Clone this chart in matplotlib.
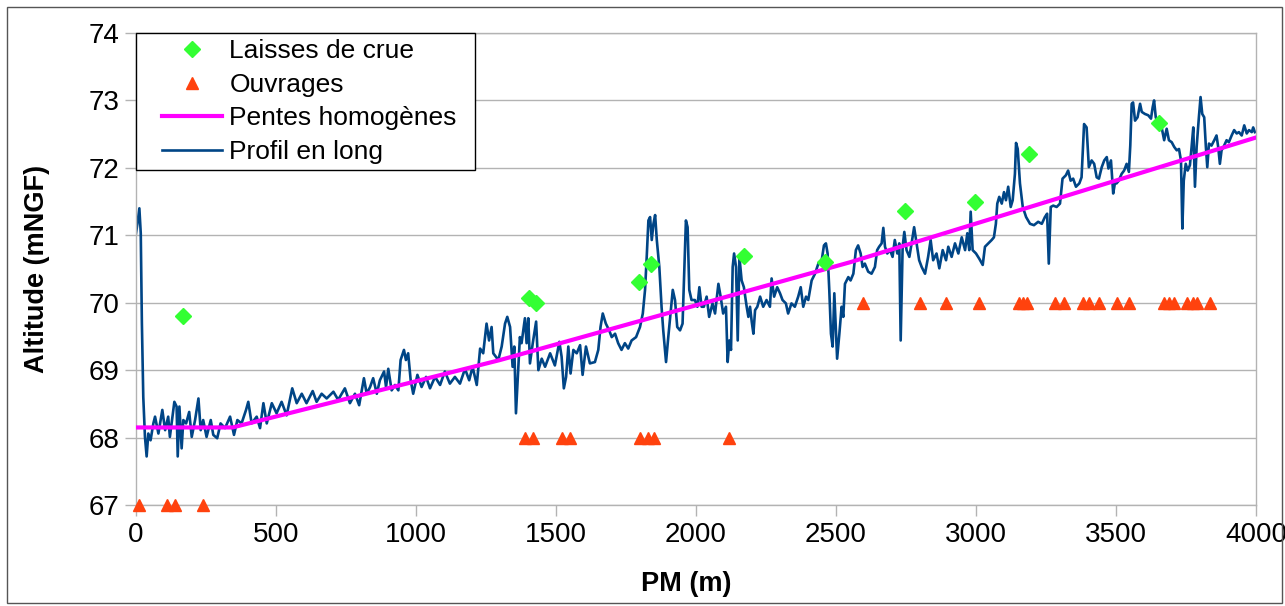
import matplotlib
matplotlib.use("Agg")
import matplotlib.pyplot as plt
from matplotlib.patches import Rectangle
from matplotlib.lines import Line2D
from matplotlib.legend_handler import HandlerLine2D

plt.rcParams['font.family'] = ['Liberation Sans', 'DejaVu Sans']

# -----------------------------
# données
# -----------------------------
# laisses de crue
laisses_pm = [168, 1404, 1429, 1796, 1839, 2171, 2461, 2746, 2996, 3189, 3654]
laisses_z = [69.81, 70.07, 69.99, 70.30, 70.57, 70.69, 70.61, 71.36, 71.49, 72.20, 72.67]

# ouvrages
ouvrages_pm = [12, 109, 139, 238,
               1389, 1417, 1520, 1550, 1800, 1830, 1850, 2117,
               2597, 2800, 2893, 3010, 3155, 3169, 3183, 3282, 3314, 3383,
               3405, 3440, 3505, 3548, 3671, 3690, 3707, 3755, 3776, 3788, 3836]
ouvrages_z = [67, 67, 67, 67,
              68, 68, 68, 68, 68, 68, 68, 68,
              70, 70, 70, 70, 70, 70, 70, 70, 70, 70,
              70, 70, 70, 70, 70, 70, 70, 70, 70, 70, 70]

# pentes homogènes
pentes_pm = [0, 345, 1300, 2550, 4000]
pentes_z = [68.15, 68.15, 69.15, 70.60, 72.45]

# profil en long
profil_pm = [
    0, 5, 12, 17, 21, 26, 32, 38, 44, 52,
    62, 68, 80, 94, 104, 115, 121, 137, 145, 149,
    155, 163, 169, 179, 190, 199, 211, 223, 231, 240,
    252, 267, 276, 290, 302, 318, 336, 350, 362, 377,
    393, 401, 413, 431, 443, 455, 467, 485, 502, 520,
    538, 558, 574, 592, 609, 631, 645, 663, 681,
    705, 722, 746, 764, 782, 797, 814, 824, 836, 847,
    860, 871, 886, 893, 901, 913, 925, 937, 945, 957,
    964, 972, 981, 990, 1005, 1020, 1036, 1050, 1068, 1086,
    1103, 1121, 1139, 1157, 1175, 1190, 1202, 1217, 1229, 1240,
    1252, 1261, 1270, 1276, 1294, 1306, 1318, 1326, 1336, 1345,
    1351,
    1357, 1365, 1371, 1377, 1383, 1389, 1395, 1401, 1407, 1417,
    1429, 1437, 1449, 1461, 1479, 1496, 1512, 1520, 1528, 1536,
    1544, 1552, 1562, 1574, 1586, 1595, 1607, 1621, 1639, 1651,
    1659, 1667, 1678, 1690, 1699, 1711, 1722, 1734, 1746, 1758,
    1770, 1786, 1800, 1810, 1818, 1824, 1830, 1836, 1842, 1848,
    1854, 1860, 1869, 1877, 1883, 1893, 1901, 1909, 1917, 1925,
    1933, 1943, 1952, 1960, 1964, 1970, 1976, 1984, 1996, 2005,
    2012,
    2020, 2028, 2038, 2047, 2059, 2068, 2080, 2088, 2097, 2107,
    2113, 2119, 2125, 2131, 2136, 2143, 2149, 2155, 2163, 2171,
    2181, 2187, 2193, 2199, 2205, 2211, 2219, 2229, 2240, 2252,
    2264, 2270, 2279, 2290, 2300, 2309, 2321, 2329, 2341, 2353,
    2365, 2374, 2383, 2393, 2401, 2413, 2425, 2437, 2449, 2457,
    2464, 2470, 2476, 2482, 2488, 2494, 2500, 2504, 2512, 2520,
    2526, 2532, 2544, 2552, 2562, 2571, 2579, 2588, 2595, 2603,
    2615, 2627, 2639, 2647, 2654, 2663, 2669, 2675, 2683, 2693,
    2702, 2710, 2719,
    2726, 2731, 2738, 2744, 2752, 2762, 2770, 2779, 2788, 2797,
    2806, 2818, 2829, 2838, 2847, 2859, 2869, 2881, 2893, 2901,
    2913, 2925, 2937, 2949, 2961, 2969, 2976, 2981, 2988, 3000,
    3012, 3024, 3032, 3044, 3056, 3064, 3071, 3076, 3083, 3092,
    3100, 3107, 3115, 3124, 3131, 3139, 3143, 3149, 3157, 3167,
    3179, 3193, 3207, 3222, 3235, 3246, 3254, 3260, 3267, 3276,
    3288, 3300, 3309, 3321, 3329, 3338, 3347, 3357, 3369, 3377,
    3386, 3395, 3403, 3413, 3422, 3431, 3439, 3449, 3458, 3467,
    3473, 3482, 3490, 3496, 3502, 3510, 3520, 3529, 3538, 3546,
    3551, 3556, 3561, 3568, 3577, 3586, 3592, 3603, 3615, 3625,
    3631, 3636, 3642, 3651, 3663, 3672, 3681, 3689, 3699, 3708,
    3717, 3725, 3732, 3737, 3742, 3749, 3756, 3764, 3770, 3776,
    3782, 3788, 3796, 3802, 3808, 3815, 3821, 3826, 3832, 3841,
    3851, 3859, 3865, 3871, 3877, 3884, 3895, 3903, 3913, 3922,
    3931, 3939, 3949, 3958, 3967, 3975, 3985, 3990, 3996,
]
profil_z = [
    71.03, 71.17, 71.40, 71.03, 69.70, 68.60, 68.01, 67.72, 68.06, 67.96,
    68.21, 68.31, 68.06, 68.41, 68.11, 68.31, 68.01, 68.53, 68.46, 67.72,
    68.46, 67.84, 68.26, 68.21, 68.38, 68.01, 68.26, 68.58, 68.11, 68.26,
    68.01, 68.26, 68.04, 67.99, 68.21, 68.14, 68.31, 68.04, 68.26, 68.21,
    68.41, 68.53, 68.21, 68.31, 68.14, 68.51, 68.21, 68.51, 68.36, 68.53,
    68.33, 68.73, 68.51, 68.65, 68.51, 68.69, 68.53, 68.65, 68.58,
    68.68, 68.56, 68.73, 68.51, 68.65, 68.48, 68.88, 68.65, 68.75, 68.88,
    68.65, 68.85, 68.98, 68.75, 69.02, 68.70, 68.78, 68.70, 69.15, 69.30,
    69.15, 69.25, 68.85, 68.65, 68.93, 68.75, 68.90, 68.73, 68.90, 68.78,
    68.98, 68.80, 68.90, 68.80, 69.02, 68.85, 69.05, 68.78, 69.32, 69.25,
    69.69, 69.44, 69.64, 69.25, 69.15, 69.35, 69.69, 69.79, 69.64, 69.05,
    69.35,
    68.36, 69.00, 69.49, 69.40, 69.59, 69.77, 69.40, 69.77, 69.10, 69.40,
    69.72, 69.00, 69.17, 69.05, 69.25, 69.07, 69.42, 69.20, 68.73, 68.90,
    69.35, 68.95, 69.30, 69.25, 69.37, 68.93, 69.35, 69.10, 69.12, 69.30,
    69.64, 69.84, 69.69, 69.59, 69.49, 69.54, 69.40, 69.30, 69.40, 69.32,
    69.44, 69.49, 69.64, 69.84, 70.19, 70.68, 71.22, 71.27, 70.93, 71.17,
    71.30, 70.93, 70.53, 69.94, 69.59, 69.12, 69.49, 69.84, 70.19, 70.04,
    69.64, 69.59, 69.69, 70.68, 71.22, 71.12, 70.19, 70.04, 70.04, 69.94,
    70.23,
    69.94, 69.94, 70.09, 69.79, 69.99, 69.84, 70.28, 70.09, 69.84, 69.94,
    69.12, 69.44, 69.30, 70.53, 70.73, 70.53, 69.44, 70.68, 70.33, 70.23,
    69.94, 69.79, 69.94, 69.72, 69.54, 69.89, 69.94, 70.09, 69.94, 70.04,
    69.94, 70.36, 70.09, 70.23, 70.14, 70.04, 69.99, 69.84, 69.99, 69.94,
    70.09, 70.23, 69.94, 70.09, 70.04, 70.33, 70.43, 70.58, 70.63, 70.85,
    70.88, 70.73, 70.19, 69.54, 69.35, 70.14, 69.54, 69.17, 69.54, 69.94,
    69.79, 70.28, 70.38, 70.33, 70.43, 70.78, 70.85, 70.73, 70.53, 70.58,
    70.46, 70.43, 70.53, 70.78, 70.83, 70.88, 71.11, 70.83, 70.73, 70.78,
    70.68, 70.93, 70.73,
    70.88, 69.44, 70.83, 71.05, 70.78, 70.68, 70.88, 71.12, 70.88, 70.63,
    70.53, 70.43, 70.68, 70.93, 70.63, 70.73, 70.51, 70.78, 70.63, 70.83,
    70.68, 70.88, 70.73, 70.97, 70.78, 71.03, 70.78, 71.35, 70.78, 70.73,
    70.65, 70.56, 70.83, 70.88, 70.93, 70.97, 71.17, 71.47, 71.57, 71.47,
    71.64, 71.52, 71.72, 71.42, 71.52, 71.91, 72.37, 72.28, 71.77, 71.42,
    71.27, 71.17, 71.15, 71.20, 71.17, 71.27, 71.32, 70.58, 71.42, 71.44,
    71.42, 71.47, 71.84, 71.89, 71.96, 71.81, 71.84, 71.72, 71.77, 71.86,
    72.65, 72.60, 72.01, 72.11, 72.06, 71.86, 71.84, 72.01, 72.11, 72.16,
    71.99, 72.11, 71.62, 71.77, 71.77, 71.81, 71.91, 71.96, 72.06, 71.94,
    72.33, 72.95, 72.97, 72.70, 72.75, 72.95, 72.83, 72.80, 72.78, 72.73,
    72.90, 73.00, 72.75, 72.65, 72.60, 72.41, 72.58, 72.41, 72.38, 72.31,
    72.26, 72.28, 72.11, 71.10, 71.81, 72.06, 71.96, 72.04, 72.31, 72.60,
    71.72, 72.31, 72.75, 73.05, 72.80, 72.75, 72.31, 72.01, 72.36, 72.33,
    72.41, 72.48, 72.31, 72.06, 72.26, 72.31, 72.41, 72.38, 72.48, 72.56,
    72.51, 72.53, 72.48, 72.63, 72.51, 72.56, 72.53, 72.60, 72.53,
]

# -----------------------------
# figure
# -----------------------------
fig = plt.figure(figsize=(12.85, 6.06), dpi=100)
ax = fig.add_axes([136 / 1285, 1 - 505 / 606, 1120 / 1285, 472 / 606])

grey = '#b3b3b3'

ax.plot(profil_pm, profil_z, color='#004586', lw=1.9, zorder=2, label='Profil en long')
ax.plot(pentes_pm, pentes_z, color='#ff00ff', lw=3, zorder=3, label='Pentes homogènes')
ax.plot(ouvrages_pm, ouvrages_z, ls='none', marker='^', ms=9, color='#ff420e',
        zorder=4, label='Ouvrages', clip_on=False)
ax.plot(laisses_pm, laisses_z, ls='none', marker='D', ms=8, color='#33ff33',
        zorder=5, label='Laisses de crue')

ax.set_xlim(0, 4000)
ax.set_ylim(67, 74)
ax.set_xticks(range(0, 4001, 500))
ax.set_yticks(range(67, 75))
ax.grid(axis='y', color=grey, lw=1)
ax.set_axisbelow(True)
for s in ax.spines.values():
    s.set_color(grey)
    s.set_linewidth(1)
ax.tick_params(axis='both', direction='out', length=8, width=1, color=grey,
               labelsize=20, pad=4)

ax.set_xlabel('PM (m)', fontsize=19.5, fontweight='bold')
ax.set_ylabel('Altitude (mNGF)', fontsize=19.5, fontweight='bold')
ax.xaxis.set_label_coords(0.491, -0.140)
ax.yaxis.set_label_coords(-0.0768, 0.5)

handles, labels = ax.get_legend_handles_labels()
order = [3, 2, 1, 0]
leg = ax.legend([handles[i] for i in order], [labels[i] for i in order],
                loc='upper left', bbox_to_anchor=(0, 1, 339 / 1120, 0),
                mode='expand', borderaxespad=0,
                fancybox=False, framealpha=1, edgecolor='black', fontsize=19,
                handlelength=3.0, handletextpad=0.3, labelspacing=0.36,
                borderpad=0.24,
                handler_map={Line2D: HandlerLine2D(xpad=0.73)})
leg.get_frame().set_linewidth(1)

# cadre extérieur
fig.patches.append(Rectangle((7 / 1285, 3 / 606), 1275 / 1285, 596 / 606,
                             transform=fig.transFigure, fill=False,
                             edgecolor='#555555', lw=1))

fig.savefig('out.png', dpi=100)
